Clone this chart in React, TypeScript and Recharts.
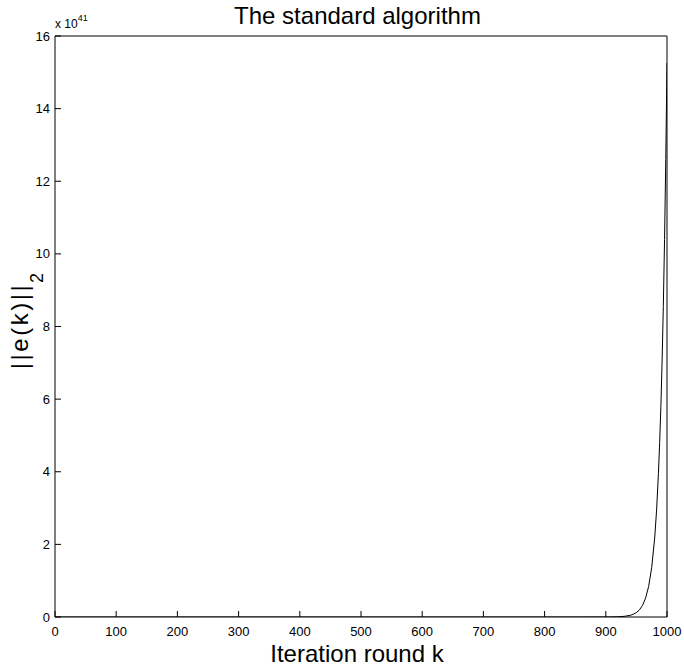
import React from 'react';
import { LineChart, Line, XAxis, YAxis } from 'recharts';

// Iteration rounds (k) and error norm values (in units of 1e41)
const kValues = [0, 100, 200, 300, 400, 500, 600, 700, 800, 850, 900, 910, 920, 930, 940, 945, 950, 955, 960, 965, 970, 975, 980, 983, 986, 988, 990, 992, 994, 996, 998, 1000];
const errValues = [0, 0, 0, 0, 0, 0, 0, 0, 0, 0, 0.001, 0.003, 0.007, 0.018, 0.046, 0.075, 0.122, 0.197, 0.32, 0.52, 0.84, 1.36, 2.2, 2.95, 3.95, 4.8, 5.8, 7.05, 8.55, 10.4, 12.6, 15.26];

const xTicks = [0, 100, 200, 300, 400, 500, 600, 700, 800, 900, 1000];
const yTicks = [0, 2, 4, 6, 8, 10, 12, 14, 16];

const titleText = 'The standard algorithm';
const xLabelText = 'Iteration round k';
const yLabelMain = '||e(k)||';
const yLabelSub = '2';
const exponentBase = 'x 10';
const exponentPower = '41';

const data = kValues.map((k, i) => ({ k, v: errValues[i] }));

const FONT = '"Liberation Sans", Arial, Helvetica, sans-serif';
const tickStyle = { fill: '#000', fontSize: 13, fontFamily: FONT };
const lineStyle = { stroke: '#000', strokeWidth: 1 };

export default function App() {
  return (
    <div style={{ position: 'relative', width: 684, height: 672, overflow: 'visible' }}>
      <style>{'html,body{margin:0;padding:0;overflow:hidden;}'}</style>
      <LineChart width={684} height={672} data={data} margin={{ top: 35, right: 16, bottom: 25, left: 8 }}>
        <XAxis
          xAxisId="b"
          dataKey="k"
          type="number"
          domain={[0, 1000]}
          ticks={xTicks}
          interval={0}
          tickSize={-6}
          tickMargin={16}
          height={30}
          axisLine={lineStyle}
          tickLine={lineStyle}
          tick={tickStyle}
          allowDataOverflow
        />
        <XAxis
          xAxisId="t"
          orientation="top"
          dataKey="k"
          type="number"
          domain={[0, 1000]}
          ticks={xTicks}
          interval={0}
          tickSize={-6}
          height={1}
          axisLine={lineStyle}
          tickLine={lineStyle}
          tick={false}
          allowDataOverflow
        />
        <YAxis
          yAxisId="l"
          type="number"
          domain={[0, 16]}
          ticks={yTicks}
          interval={0}
          tickSize={-6}
          tickMargin={11}
          width={47}
          axisLine={lineStyle}
          tickLine={lineStyle}
          tick={tickStyle}
          allowDataOverflow
        />
        <YAxis
          yAxisId="r"
          orientation="right"
          type="number"
          domain={[0, 16]}
          ticks={yTicks}
          interval={0}
          tickSize={-6}
          width={1}
          axisLine={lineStyle}
          tickLine={lineStyle}
          tick={false}
          allowDataOverflow
        />
        <Line
          xAxisId="b"
          yAxisId="l"
          dataKey="v"
          type="linear"
          stroke="#000"
          strokeWidth={1}
          dot={false}
          activeDot={false}
          isAnimationActive={false}
        />
      </LineChart>
      <svg
        width={684}
        height={672}
        style={{ position: 'absolute', left: 0, top: 0, pointerEvents: 'none' }}
      >
        <text x={357.5} y={23.5} textAnchor="middle" fontSize={24} fontFamily={FONT} fill="#000">
          {titleText}
        </text>
        <text x={357} y={662} textAnchor="middle" fontSize={24} fontFamily={FONT} fill="#000">
          {xLabelText}
        </text>
        <text transform="translate(27.5,321) rotate(-90)" textAnchor="middle" fontSize={24} fontFamily={FONT} fill="#000">
          <tspan letterSpacing={2.5}>{yLabelMain}</tspan>
          <tspan fontSize={18} dy={15}>{yLabelSub}</tspan>
        </text>
        <text x={55} y={28} fontSize={12} fontFamily={FONT} fill="#000">
          {exponentBase}
          <tspan fontSize={9} dy={-7}>{exponentPower}</tspan>
        </text>
      </svg>
    </div>
  );
}
